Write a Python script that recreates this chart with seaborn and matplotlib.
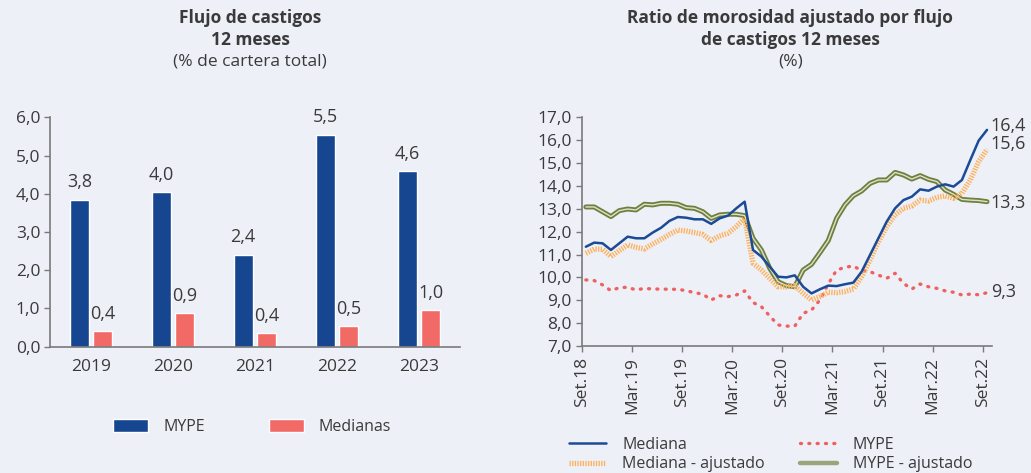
import matplotlib
matplotlib.use("Agg")
import matplotlib.pyplot as plt
import seaborn as sns
import pandas as pd
import numpy as np
from matplotlib.lines import Line2D
from matplotlib.patches import Patch
import matplotlib.patheffects as pe

BG = "#EEF0F8"
TXT = "#3A3A3A"
AX = "#7A7A7A"

# ---------------- data ----------------
years = ["2019", "2020", "2021", "2022", "2023"]
mype_bar = [3.85, 4.05, 2.41, 5.55, 4.59]
medianas_bar = [0.41, 0.87, 0.35, 0.54, 0.96]
mype_bar_lbl = ["3,8", "4,0", "2,4", "5,5", "4,6"]
medianas_bar_lbl = ["0,4", "0,9", "0,4", "0,5", "1,0"]

tick_labels = ["Set.18", "Mar.19", "Set.19", "Mar.20", "Set.20",
               "Mar.21", "Set.21", "Mar.22", "Set.22"]

mediana = [11.34, 11.52, 11.49, 11.20, 11.49, 11.78, 11.71, 11.71, 11.96, 12.17,
           12.47, 12.64, 12.61, 12.54, 12.54, 12.34, 12.58, 12.70, 13.02, 13.31,
           11.20, 10.91, 10.47, 10.03, 10.00, 10.09, 9.59, 9.30, 9.48, 9.64,
           9.62, 9.70, 9.77, 10.25, 10.98, 11.71, 12.44, 13.02, 13.38, 13.53,
           13.85, 13.79, 13.97, 14.07, 13.97, 14.26, 15.13, 15.98, 16.45]
mediana_aj = [11.05, 11.24, 11.23, 10.91, 11.17, 11.42, 11.31, 11.24, 11.46, 11.66,
              11.88, 12.07, 12.03, 11.96, 11.88, 11.61, 11.81, 11.93, 12.22, 12.58,
              10.62, 10.32, 9.96, 9.59, 9.59, 9.64, 9.30, 9.01, 9.16, 9.35,
              9.33, 9.38, 9.49, 10.03, 10.76, 11.56, 12.22, 12.73, 13.02, 13.12,
              13.38, 13.34, 13.50, 13.56, 13.46, 13.68, 14.26, 15.06, 15.60]
mype = [9.89, 9.86, 9.67, 9.42, 9.55, 9.57, 9.45, 9.52, 9.49, 9.49,
        9.48, 9.48, 9.42, 9.33, 9.27, 9.01, 9.20, 9.16, 9.23, 9.41,
        8.90, 8.72, 8.31, 7.92, 7.87, 7.87, 8.43, 8.57, 9.01, 9.71,
        10.32, 10.44, 10.50, 10.29, 10.25, 10.10, 9.96, 10.18, 9.74, 9.49,
        9.71, 9.59, 9.52, 9.41, 9.35, 9.23, 9.27, 9.24, 9.33]
mype_aj = [13.08, 13.08, 12.87, 12.66, 12.92, 12.99, 12.95, 13.20, 13.17, 13.24,
           13.24, 13.20, 13.05, 13.02, 12.87, 12.58, 12.73, 12.76, 12.76, 12.70,
           11.71, 11.20, 10.40, 9.81, 9.64, 9.59, 10.32, 10.57, 11.08, 11.61,
           12.58, 13.17, 13.57, 13.78, 14.11, 14.26, 14.26, 14.59, 14.48, 14.30,
           14.45, 14.29, 14.19, 13.82, 13.63, 13.41, 13.38, 13.36, 13.31]
end_labels = ["16,4", "15,6", "13,3", "9,3"]

# ---------------- style ----------------
sns.set_style("white", {"axes.facecolor": BG, "figure.facecolor": BG})
plt.rcParams["font.family"] = ["Open Sans", "DejaVu Sans"]
plt.rcParams["text.color"] = TXT
plt.rcParams["xtick.color"] = TXT
plt.rcParams["ytick.color"] = TXT

TICK_FS = 12.5
LEG_FS = 11.5

fig = plt.figure(figsize=(10.31, 4.73), dpi=100)
fig.patch.set_facecolor(BG)

ax1 = fig.add_axes([0.0485, 0.267, 0.3975, 0.485])
ax2 = fig.add_axes([0.5642, 0.2685, 0.3980, 0.4835])

C_MYPE = "#15468F"
C_MED = "#F26A66"

# ---------------- left: bars ----------------
df_bar = pd.DataFrame({
    "year": years * 2,
    "serie": ["MYPE"] * len(years) + ["Medianas"] * len(years),
    "valor": mype_bar + medianas_bar,
})
sns.barplot(data=df_bar, x="year", y="valor", hue="serie", ax=ax1,
            palette={"MYPE": C_MYPE, "Medianas": C_MED},
            width=0.57, gap=0.2, saturation=1, legend=False)
for cont, lbls in zip(ax1.containers, [mype_bar_lbl, medianas_bar_lbl]):
    ax1.bar_label(cont, labels=lbls, padding=6, fontsize=13, color=TXT)

ax1.set_ylim(0, 6)
ax1.set_xlim(-0.5, 4.5)
ax1.set_yticks(np.arange(0, 7, 1))
ax1.set_yticklabels([f"{v:.1f}".replace(".", ",") for v in np.arange(0, 7, 1)])
ax1.set_xticks(range(len(years)))
ax1.set_xticklabels(years)
ax1.set_xticks(np.arange(-0.5, 5.0, 1), minor=True)
ax1.tick_params(axis="x", which="major", length=0, pad=9, labelsize=TICK_FS)
ax1.tick_params(axis="x", which="minor", length=4, width=1, color=AX, direction="out")
ax1.tick_params(axis="y", length=4, width=1, color=AX, direction="out", pad=3, labelsize=TICK_FS, left=True)
ax1.set_xlabel("")
ax1.set_ylabel("")
for s in ["top", "right"]:
    ax1.spines[s].set_visible(False)
for s in ["left", "bottom"]:
    ax1.spines[s].set_color(AX)
    ax1.spines[s].set_linewidth(1.2)

handles1 = [Patch(facecolor=C_MYPE, label="MYPE"), Patch(facecolor=C_MED, label="Medianas")]
ax1.legend(handles=handles1, loc="center", bbox_to_anchor=(0.493, -0.35), ncol=2,
           frameon=False, fontsize=LEG_FS, handlelength=2.2, handleheight=0.8,
           handletextpad=0.95, columnspacing=4.0)

TITLE_FAM = ["Open Sans", "DejaVu Sans"]
fig.text(0.2425, 0.963, "Flujo de castigos", ha="center", va="center",
         fontsize=12.5, fontweight="bold", family=TITLE_FAM)
fig.text(0.2425, 0.915, "12 meses", ha="center", va="center",
         fontsize=12.5, fontweight="bold", family=TITLE_FAM)
fig.text(0.2425, 0.869, "(% de cartera total)", ha="center", va="center", fontsize=12.5)

# ---------------- right: lines ----------------
n = len(mediana)
df_line = pd.DataFrame({"x": np.arange(n), "Mediana": mediana, "Mediana - ajustado": mediana_aj,
                        "MYPE": mype, "MYPE - ajustado": mype_aj})

C_LMED = "#1B4B96"
C_LMEDAJ = "#FDB15A"
C_LMYPE = "#F0605E"
C_LMYPEAJ = "#6E7F3E"

sns.lineplot(data=df_line, x="x", y="MYPE - ajustado", ax=ax2, color=C_LMYPEAJ, lw=3.6)
ax2.lines[-1].set_path_effects([pe.Normal(), pe.Stroke(linewidth=1.0, foreground="#DDE2C8")])
sns.lineplot(data=df_line, x="x", y="MYPE", ax=ax2, color=C_LMYPE, lw=2.4)
ax2.lines[-1].set_linestyle((0, (0.3, 2.2)))
ax2.lines[-1].set_dash_capstyle("round")
sns.lineplot(data=df_line, x="x", y="Mediana - ajustado", ax=ax2, color=C_LMEDAJ, lw=3.8)
ax2.lines[-1].set_linestyle((0, (0.25, 0.25)))
sns.lineplot(data=df_line, x="x", y="Mediana", ax=ax2, color=C_LMED, lw=1.8)

ax2.set_ylim(7, 17)
ax2.set_xlim(-0.5, 48.6)
ax2.set_yticks(np.arange(7, 18, 1))
ax2.set_yticklabels([f"{v:.1f}".replace(".", ",") for v in np.arange(7, 18, 1)])
ax2.set_xticks(np.arange(0, n, 6) - 0.5)
ax2.set_xticklabels(tick_labels, rotation=90)
ax2.tick_params(axis="x", length=4, width=1, color=AX, direction="out", pad=4, labelsize=TICK_FS, bottom=True)
ax2.tick_params(axis="y", length=4, width=1, color=AX, direction="out", pad=3, labelsize=TICK_FS, left=True)
ax2.set_xlabel("")
ax2.set_ylabel("")
for s in ["top", "right"]:
    ax2.spines[s].set_visible(False)
for s in ["left", "bottom"]:
    ax2.spines[s].set_color(AX)
    ax2.spines[s].set_linewidth(1.2)

last = [mediana[-1], mediana_aj[-1], mype_aj[-1], mype[-1]]
offs = [0.17, 0.22, -0.04, 0.04]
for v, lbl, o in zip(last, end_labels, offs):
    ax2.text(n - 1 + 0.45, v + o, lbl, ha="left", va="center", fontsize=13,
             color=TXT, clip_on=False)

handles2 = [
    Line2D([], [], color=C_LMED, lw=1.8, label="Mediana"),
    Line2D([], [], color=C_LMEDAJ, lw=3.8, ls=(0, (0.25, 0.25)), label="Mediana - ajustado"),
    Line2D([], [], color=C_LMYPE, lw=2.4, ls=(0, (0.3, 2.2)), dash_capstyle="round", label="MYPE"),
    Line2D([], [], color="#9AA67A", lw=3.2, label="MYPE - ajustado"),
]
ax2.legend(handles=handles2, loc="upper left", bbox_to_anchor=(-0.065, -0.335), ncol=2,
           frameon=False, fontsize=LEG_FS, handlelength=2.3, handletextpad=1.0,
           columnspacing=2.2, labelspacing=0.2)

fig.text(0.7665, 0.963, "Ratio de morosidad ajustado por flujo", ha="center", va="center",
         fontsize=12.5, fontweight="bold", family=TITLE_FAM)
fig.text(0.7665, 0.915, "de castigos 12 meses", ha="center", va="center",
         fontsize=12.5, fontweight="bold", family=TITLE_FAM)
fig.text(0.7665, 0.869, "(%)", ha="center", va="center", fontsize=12.5)

fig.savefig("out.png", dpi=100, facecolor=BG)
